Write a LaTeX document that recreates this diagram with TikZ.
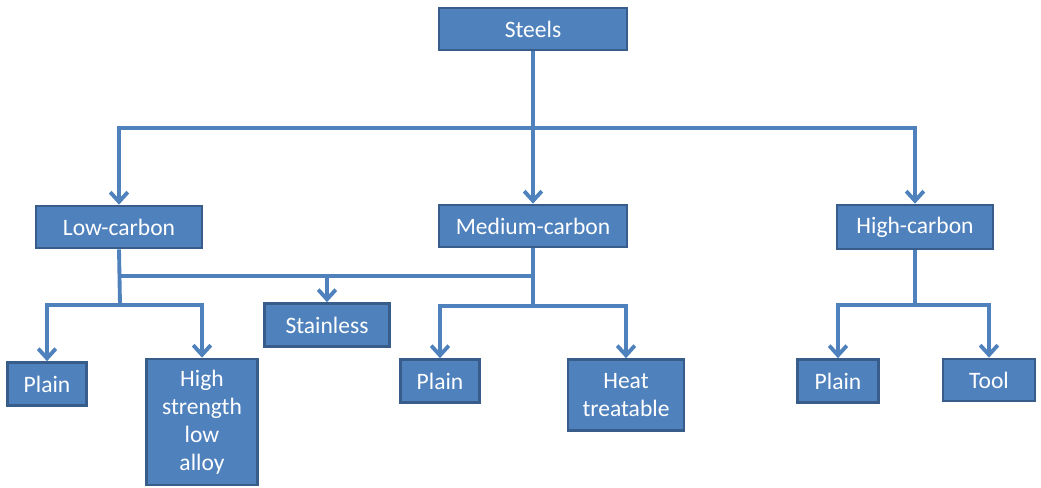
\documentclass[tikz,border=0pt]{standalone}
\usepackage{fontspec}
\setmainfont{Carlito}
\usetikzlibrary{arrows.meta}
\definecolor{boxfill}{HTML}{4F81BD}
\definecolor{boxline}{HTML}{385D8A}
\tikzset{
  cls/.style={draw=boxline, line width=1.5pt, fill=boxfill, text=white, align=center,
    inner sep=0pt, font=\fontsize{13.4}{15.9}\selectfont},
  link/.style={draw=boxfill, line width=2.2pt},
  arr/.style={link, -{Straight Barb[length=5.5pt,width=10pt]}}
}
\begin{document}
\begin{tikzpicture}[x=0.02cm,y=-0.02cm]
\useasboundingbox (0,0) rectangle (1041,487);
\node[cls, minimum width=3.76cm, minimum height=0.84cm] (steels) at (533,29) {Steels};
\node[cls, minimum width=3.32cm, minimum height=0.84cm] (low) at (119,227) {Low-carbon};
\node[cls, minimum width=3.76cm, minimum height=0.84cm] (medium) at (533,226) {Medium-carbon};
\node[cls, minimum width=3.12cm, minimum height=0.88cm] (high) at (915,227) {High-carbon};
\node[cls, minimum width=2.50cm, minimum height=0.86cm] (stainless) at (327,325) {Stainless};
\node[cls, minimum width=1.58cm, minimum height=0.86cm] (plainlow) at (47,384) {Plain};
\node[cls, minimum width=2.22cm, minimum height=2.52cm] (hsla) at (202,422) {High\\strength\\low\\alloy};
\node[cls, minimum width=1.58cm, minimum height=0.86cm] (plainmid) at (440,381) {Plain};
\node[cls, minimum width=2.32cm, minimum height=1.42cm] (heat) at (626,395) {Heat\\treatable};
\node[cls, minimum width=1.62cm, minimum height=0.86cm] (plainhigh) at (838,381) {Plain};
\node[cls, minimum width=1.84cm, minimum height=0.84cm] (tool) at (989,380) {Tool};
\coordinate (topbus) at (533,128);
\coordinate (lowbus) at (120,305);
\coordinate (stbus) at (327,276);
\coordinate (midbus) at (533,306);
\coordinate (highbus) at (915,305);
\draw[link] (steels.south) -- (topbus);
\draw[arr] (topbus) -| (low.north);
\draw[arr] (topbus) -- (medium.north);
\draw[arr] (topbus) -| (high.north);
\draw[link] (low.south) -- (lowbus);
\draw[link] (low.south |- stbus) -- (medium.south |- stbus);
\draw[arr] (stbus) -- (stainless.north);
\draw[arr] (lowbus) -| (plainlow.north);
\draw[arr] (lowbus) -| (hsla.north);
\draw[link] (medium.south) -- (midbus);
\draw[arr] (midbus) -| (plainmid.north);
\draw[arr] (midbus) -| (heat.north);
\draw[link] (high.south) -- (highbus);
\draw[arr] (highbus) -| (plainhigh.north);
\draw[arr] (highbus) -| (tool.north);
\end{tikzpicture}
\end{document}
